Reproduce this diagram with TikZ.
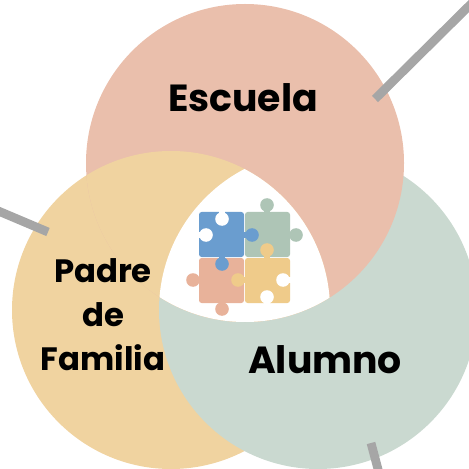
\documentclass[tikz,border=0pt]{standalone}
\usepackage{fontspec}
\setmainfont{Poppins}
\usetikzlibrary{positioning}
\definecolor{escuelac}{HTML}{EABFAC}
\definecolor{padrec}{HTML}{F0D3A0}
\definecolor{alumnoc}{HTML}{CAD9D0}
\definecolor{barc}{HTML}{A6A6A6}
\definecolor{piezab}{HTML}{6A9DCF}
\definecolor{piezav}{HTML}{AEC5B6}
\definecolor{piezar}{HTML}{E8B29A}
\definecolor{piezaa}{HTML}{EFCB8A}
\tikzset{
  barra/.style={draw=barc,line width=5pt},
  etiqueta/.style={font=\bfseries\fontsize{21.5}{25}\selectfont,text=black,inner sep=0pt,align=center},
  pieza/.style={rounded corners=1.5pt}
}
\newcommand{\knob}[5]{% color, x, y, neck dx, neck dy
  \fill [#1] (#2,#3) circle [radius=6.8];
  \draw [#1,line width=3.4pt] (#2,#3) -- ++(#4,#5);
}
\begin{document}
\begin{tikzpicture}[x=0.02cm,y=-0.02cm]
  \useasboundingbox (0,0) rectangle (468,469);
  % circles
  \fill [padrec] (171,310) circle [radius=159];
  \fill [alumnoc] (318,310) circle [radius=159];
  \fill [escuelac] (245,163) circle [radius=159];
  % yellow over pink
  \begin{scope}
    \clip (245,163) circle [radius=159];
    \fill [padrec] (171,310) circle [radius=159];
  \end{scope}
  % middle part
  \begin{scope}
    \clip (318,310) circle [radius=159];
    \clip (171,310) circle [radius=159];
    \fill [white] (245,163) circle [radius=159];
  \end{scope}
  % bars
  \coordinate (b1a) at (375,99);
  \coordinate (b1b) at (472,3);
  \coordinate (b2a) at (48,232);
  \coordinate (b2b) at (-4,210);
  \coordinate (b3a) at (371,443);
  \coordinate (b3b) at (379,473);
  \draw [barra] (b1a) -- (b1b);
  \draw [barra] (b2a) -- (b2b);
  \draw [barra] (b3a) -- (b3b);
  % puzzle
  \fill [piezar,pieza] (199,258) rectangle (244,303);
  \knob{piezar}{193}{280}{8}{0}
  \knob{piezar}{222}{309}{0}{-8}
  \fill [piezav,pieza] (245,212) rectangle (290,257);
  \knob{piezav}{267}{205}{0}{8}
  \knob{piezav}{296}{235}{-8}{0}
  \fill [piezaa,pieza] (245,258) rectangle (290,303);
  \knob{piezaa}{267}{250}{0}{9}
  \knob{piezaa}{238}{280}{8}{0}
  \knob{white}{283}{280}{8}{0}
  \knob{white}{267}{297}{0}{8}
  \fill [piezab,pieza] (199,212) rectangle (244,257);
  \knob{piezab}{252}{235}{-9}{0}
  \knob{piezab}{222}{264}{0}{-8}
  \knob{white}{222}{219}{0}{-8}
  \knob{white}{206}{235}{-8}{0}
  % labels
  \node [etiqueta] (escuela) at (243,98) {Escuela};
  \node [etiqueta,font=\bfseries\fontsize{18.4}{25}\selectfont] (padre) at (103,315) {Padre\\de\\Familia};
  \node [etiqueta] (alumno) at (325,360) {Alumno};
\end{tikzpicture}
\end{document}
